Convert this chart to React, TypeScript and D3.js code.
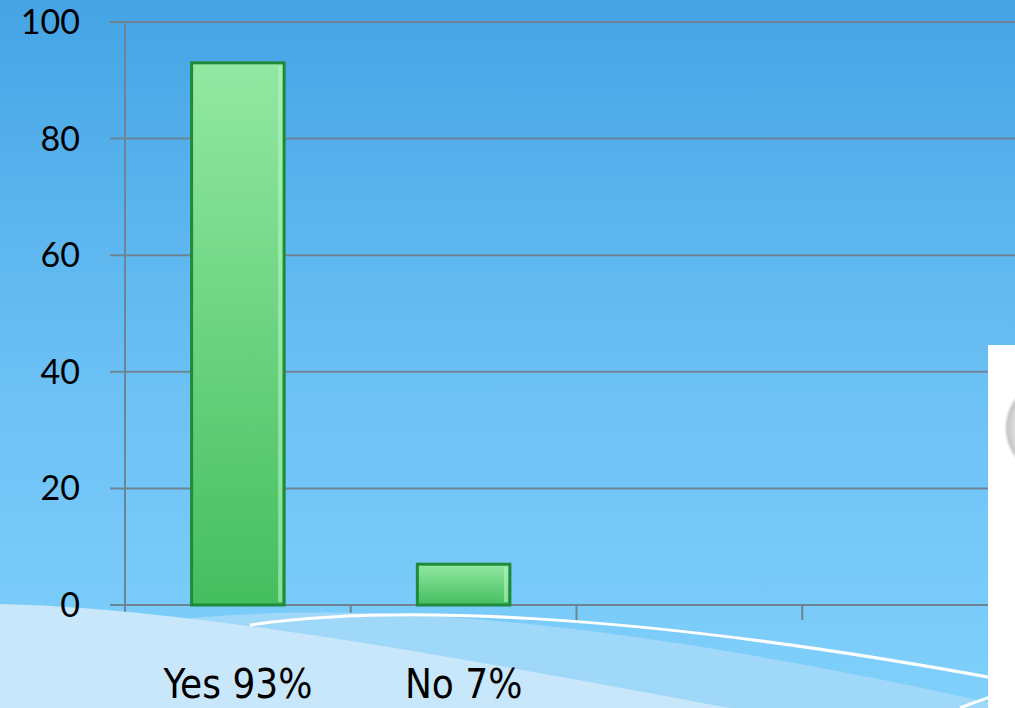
import * as d3 from "d3";
import { useRef, useEffect } from "react";

const categories = ["Yes 93%", "No 7%", "", " "];
const values = [93, 7, null, null];
const yTicks = [0, 20, 40, 60, 80, 100];

export default function App() {
  const svgRef = useRef<SVGSVGElement>(null);

  useEffect(() => {
    document.body.style.margin = "0";
    document.body.style.overflow = "hidden";
    const width = 1015;
    const height = 708;
    const svg = d3.select(svgRef.current);
    svg.selectAll("*").remove();

    const defs = svg.append("defs");
    const bg = defs.append("linearGradient").attr("id", "bg").attr("x1", 0).attr("y1", 0).attr("x2", 0).attr("y2", 1);
    bg.append("stop").attr("offset", "0%").attr("stop-color", "#45a4e5");
    bg.append("stop").attr("offset", "55%").attr("stop-color", "#6cc1f5");
    bg.append("stop").attr("offset", "100%").attr("stop-color", "#80d0fb");

    const barG = defs.append("linearGradient").attr("id", "barFill").attr("x1", 0).attr("y1", 0).attr("x2", 0).attr("y2", 1);
    barG.append("stop").attr("offset", "0%").attr("stop-color", "#93e8a2");
    barG.append("stop").attr("offset", "100%").attr("stop-color", "#44be5f");

    const circ = defs.append("radialGradient").attr("id", "circ");
    circ.append("stop").attr("offset", "75%").attr("stop-color", "#e2e2e2");
    circ.append("stop").attr("offset", "93%").attr("stop-color", "#c8c8c8");
    circ.append("stop").attr("offset", "100%").attr("stop-color", "#ffffff");

    svg.append("rect").attr("width", width).attr("height", height).attr("fill", "url(#bg)");

    const x = d3.scaleBand().domain(categories).range([125, 1028]).padding(0);
    const y = d3.scaleLinear().domain([0, 100]).range([605, 22]);

    // gridlines
    svg.append("g")
      .selectAll("line")
      .data(yTicks)
      .join("line")
      .attr("x1", 110)
      .attr("x2", width)
      .attr("y1", (d) => y(d))
      .attr("y2", (d) => y(d))
      .attr("stroke", "#6e8494")
      .attr("stroke-width", 2);

    // y axis line
    svg.append("line")
      .attr("x1", 125).attr("x2", 125)
      .attr("y1", y(100)).attr("y2", 620)
      .attr("stroke", "#6e8494").attr("stroke-width", 2);

    // category ticks
    svg.append("g")
      .selectAll("line")
      .data(categories)
      .join("line")
      .attr("x1", (d) => x(d)!)
      .attr("x2", (d) => x(d)!)
      .attr("y1", y(0))
      .attr("y2", 620)
      .attr("stroke", "#6e8494")
      .attr("stroke-width", 2);

    // waves
    svg.append("path")
      .attr("d", "M170 620 C 330 604, 560 606, 1015 708 L 0 708 Z")
      .attr("fill", "#9fd8f8");
    svg.append("path")
      .attr("d", "M0 604 C 180 608, 420 650, 730 708 L 0 708 Z")
      .attr("fill", "#c9e7fb");
    svg.append("path")
      .attr("d", "M250 625 C 380 606, 620 608, 1015 682")
      .attr("fill", "none").attr("stroke", "#ffffff").attr("stroke-width", 3);
    svg.append("path")
      .attr("d", "M960 708 C 980 700, 1000 694, 1015 690")
      .attr("fill", "none").attr("stroke", "#ffffff").attr("stroke-width", 3);

    // baseline over waves
    svg.append("line")
      .attr("x1", 110).attr("x2", width)
      .attr("y1", y(0)).attr("y2", y(0))
      .attr("stroke", "#6e8494").attr("stroke-width", 2);

    // bars
    const bw = x.bandwidth() * 0.41;
    const data = categories.map((c, i) => ({ c, v: values[i] })).filter((d) => d.v != null) as { c: string; v: number }[];
    const bars = svg.append("g").selectAll("g").data(data).join("g");
    bars.append("rect")
      .attr("x", (d) => x(d.c)! + (x.bandwidth() - bw) / 2)
      .attr("y", (d) => y(d.v))
      .attr("width", bw)
      .attr("height", (d) => y(0) - y(d.v))
      .attr("fill", "url(#barFill)")
      .attr("stroke", "#1f8b3a")
      .attr("stroke-width", 3);
    bars.append("rect")
      .attr("x", (d) => x(d.c)! + (x.bandwidth() + bw) / 2 - 6)
      .attr("y", (d) => y(d.v) + 3)
      .attr("width", 4)
      .attr("height", (d) => Math.max(0, y(0) - y(d.v) - 6))
      .attr("fill", "#b4f5bd")
      .attr("opacity", 0.6);

    // y labels
    svg.append("g")
      .selectAll("text")
      .data(yTicks)
      .join("text")
      .attr("x", 80)
      .attr("y", (d) => y(d))
      .attr("dy", "0.35em")
      .attr("text-anchor", "end")
      .attr("font-family", "Lato, 'Open Sans', sans-serif")
      .attr("font-size", 34)
      .attr("fill", "#000")
      .text((d) => d);

    // x labels
    svg.append("g")
      .selectAll("text")
      .data(categories.filter((c) => c.trim() !== ""))
      .join("text")
      .attr("x", (d) => x(d)! + x.bandwidth() / 2)
      .attr("y", 698)
      .attr("text-anchor", "middle")
      .attr("font-family", "'Liberation Sans Narrow', 'DejaVu Sans Condensed', sans-serif")
      .attr("font-stretch", "condensed")
      .attr("font-size", 40)
      .attr("fill", "#000")
      .text((d) => d);

    // white panel on the right
    svg.append("rect")
      .attr("x", 988).attr("y", 345)
      .attr("width", width - 988).attr("height", height - 345)
      .attr("fill", "#ffffff");
    svg.append("circle")
      .attr("cx", 1054).attr("cy", 428).attr("r", 50)
      .attr("fill", "url(#circ)");
  }, []);

  return (
    <div>
      <svg ref={svgRef} width={1015} height={708} style={{ display: "block" }} />
    </div>
  );
}
